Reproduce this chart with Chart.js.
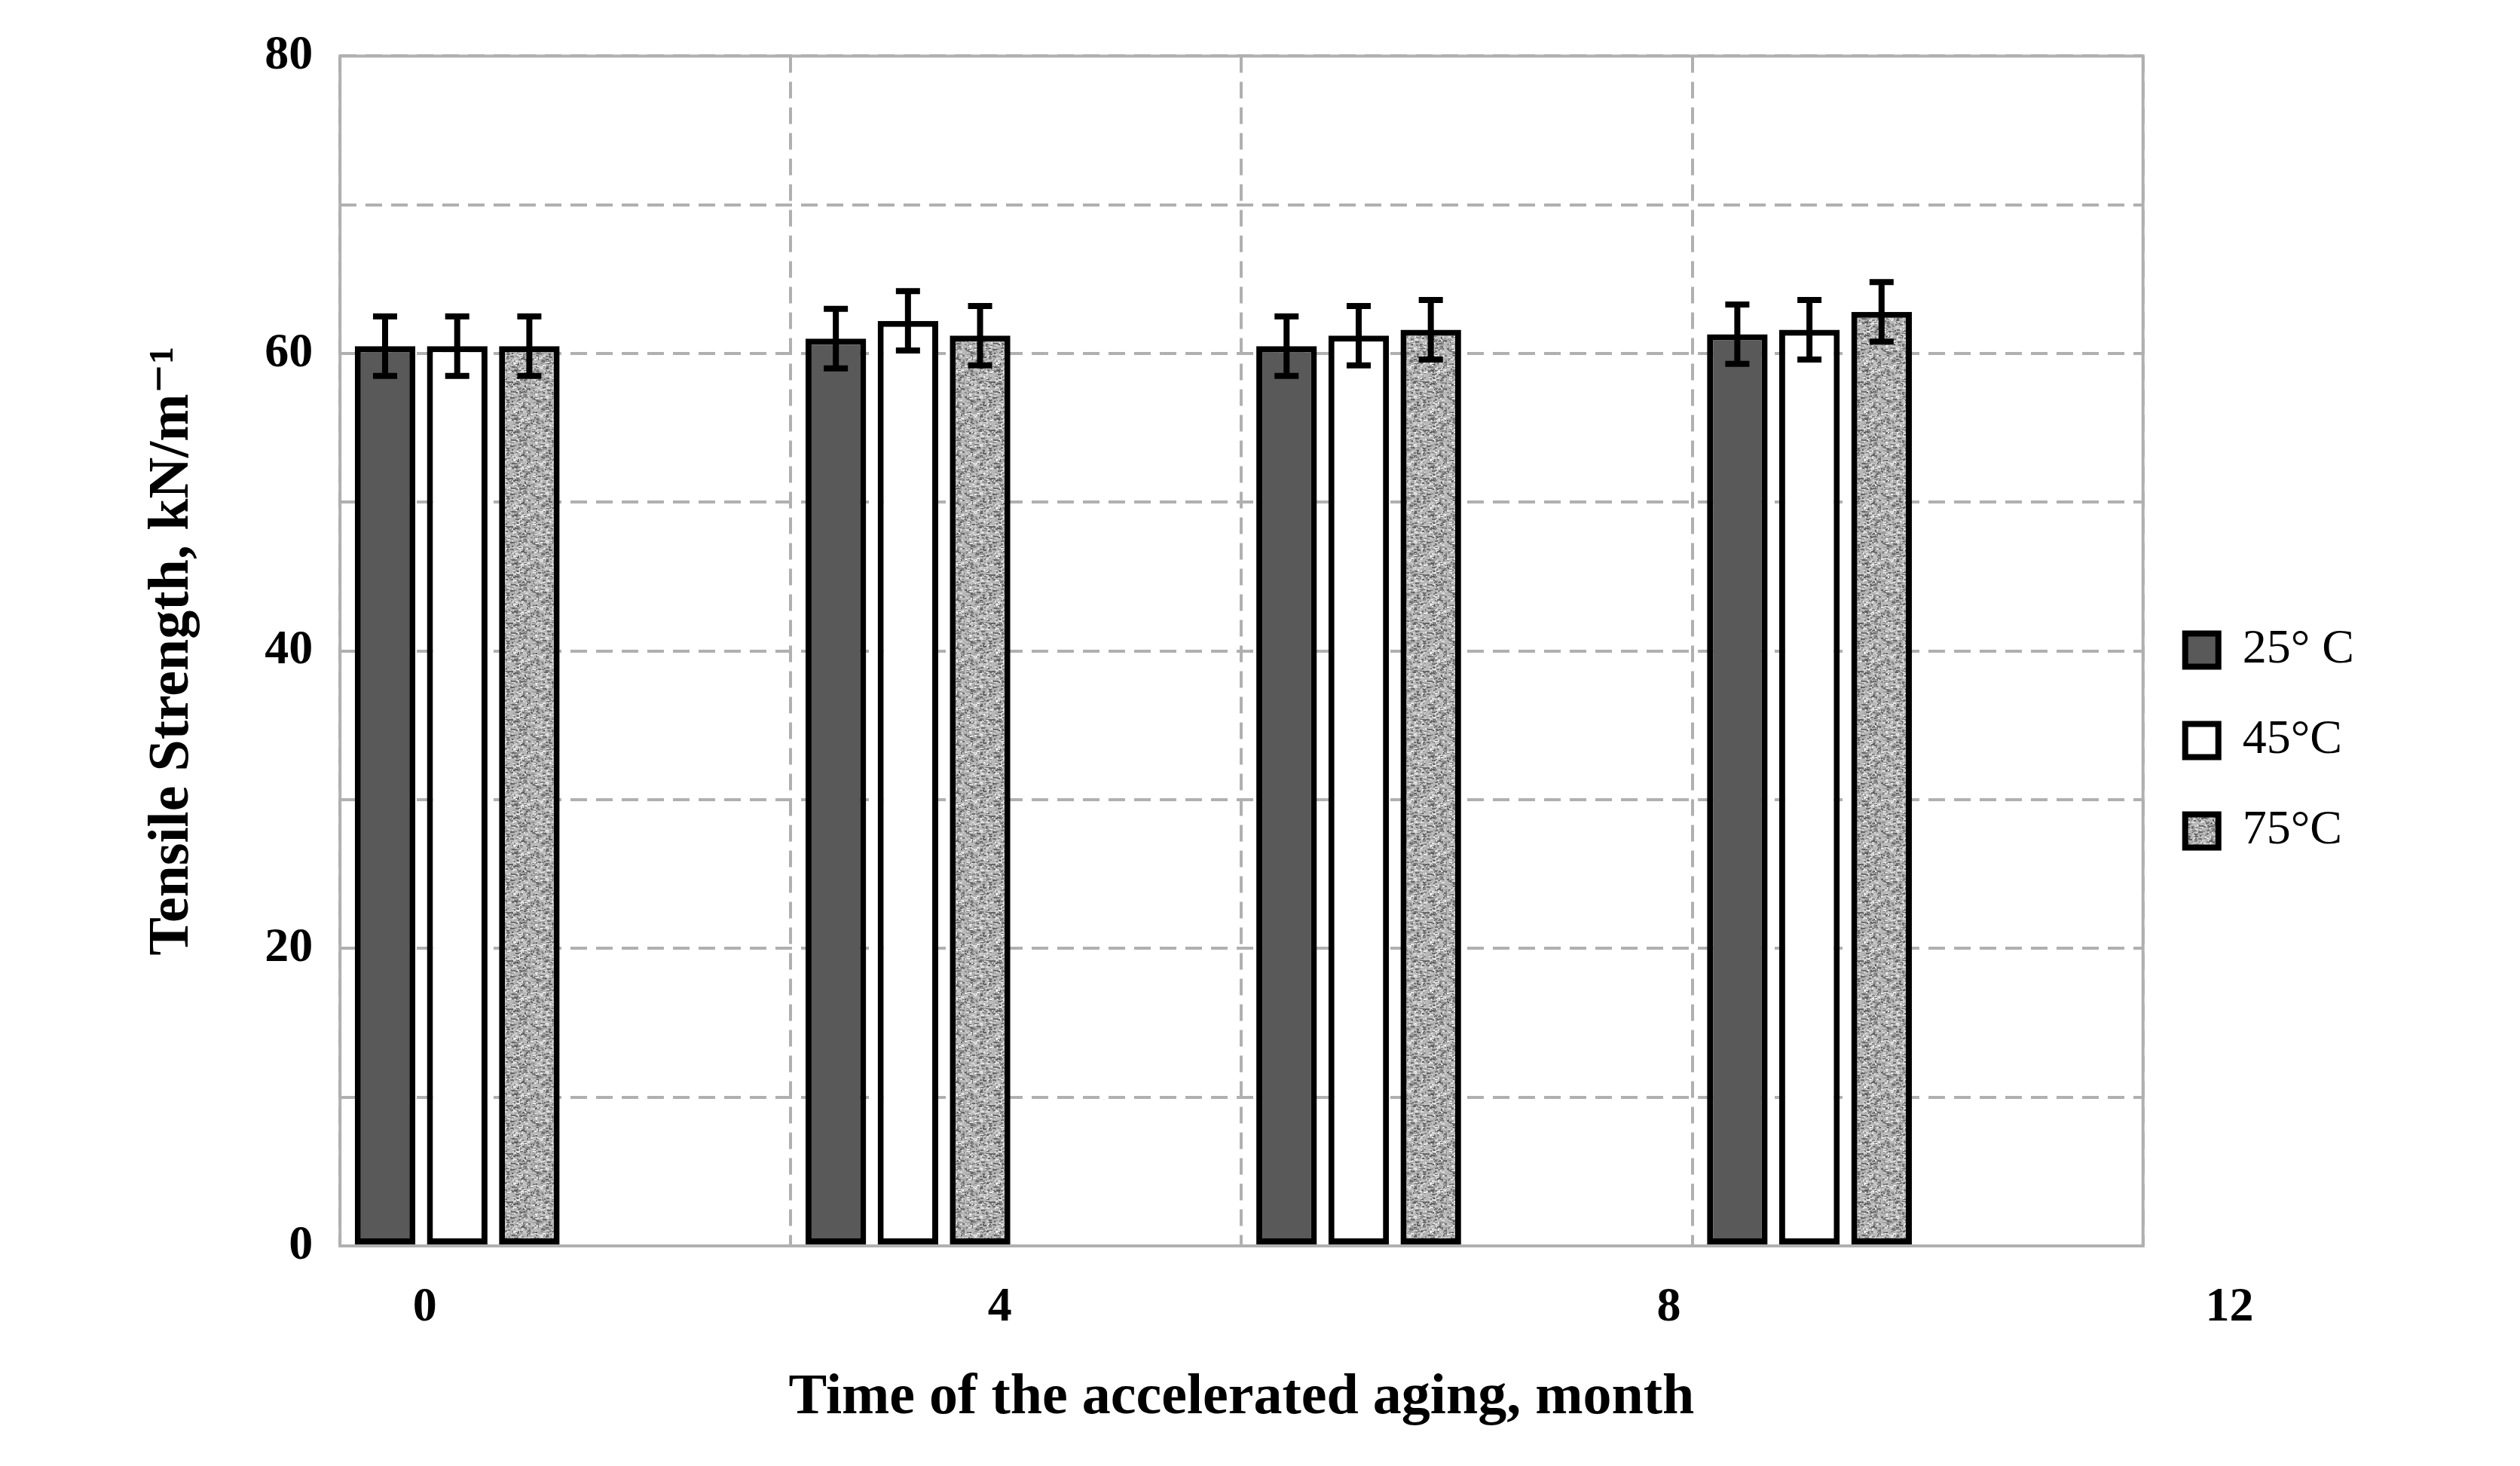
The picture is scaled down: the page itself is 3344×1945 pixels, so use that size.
<!DOCTYPE html>
<html>
<head>
<meta charset="utf-8">
<script src="https://cdn.jsdelivr.net/npm/chart.js@4"></script>
<style>
  html, body { margin: 0; padding: 0; background: #fff; }
  #wrap { width: 3344px; height: 1945px; }
</style>
</head>
<body>
<div id="wrap"><canvas id="chart"></canvas></div>
<script>
// data
const groups = ["0", "4", "8", "12"];
const xTickLabels = ["0", "4", "8", "12"];
const temp25 = [60.5, 61.0, 60.5, 61.3];
const temp45 = [60.5, 62.2, 61.2, 61.6];
const temp75 = [60.5, 61.2, 61.6, 62.8];
const err25 = [2.0, 2.0, 2.0, 2.0];
const err45 = [2.0, 2.0, 2.0, 2.0];
const err75 = [2.0, 2.0, 2.0, 2.0];

const FONT = "'Liberation Serif', 'DejaVu Serif', serif";

// speckled grey fill for the 75°C bars (deterministic noise)
function makeSpeckle() {
  const c = document.createElement("canvas");
  c.width = 64; c.height = 64;
  const g = c.getContext("2d");
  g.fillStyle = "#b8b8b8";
  g.fillRect(0, 0, 64, 64);
  let s = 12345;
  const rnd = () => (s = (s * 1103515245 + 12345) % 2147483648) / 2147483648;
  for (let i = 0; i < 900; i++) {
    const v = Math.floor(90 + rnd() * 150);
    g.fillStyle = `rgb(${v},${v},${v})`;
    g.fillRect(Math.floor(rnd() * 64), Math.floor(rnd() * 64), 2 + Math.floor(rnd() * 3), 2);
  }
  return g.createPattern(c, "repeat");
}
const speckle = makeSpeckle();

const errors = [err25, err45, err75];

const errorBars = {
  id: "errorBars",
  afterDatasetsDraw(chart) {
    const { ctx, scales: { y } } = chart;
    ctx.save();
    ctx.strokeStyle = "#000";
    ctx.lineWidth = 8;
    errors.forEach((errs, di) => {
      const meta = chart.getDatasetMeta(di);
      meta.data.forEach((bar, i) => {
        const v = chart.data.datasets[di].data[i];
        const top = y.getPixelForValue(v + errs[i]);
        const bot = y.getPixelForValue(v - errs[i]);
        ctx.beginPath();
        ctx.moveTo(bar.x, top); ctx.lineTo(bar.x, bot);
        ctx.moveTo(bar.x - 16, top); ctx.lineTo(bar.x + 16, top);
        ctx.moveTo(bar.x - 16, bot); ctx.lineTo(bar.x + 16, bot);
        ctx.stroke();
      });
    });
    ctx.restore();
  }
};

// frame + shifted month labels like the original
const frameAndTicks = {
  id: "frameAndTicks",
  beforeDatasetsDraw(chart) {
    const { ctx, chartArea: a } = chart;
    ctx.save();
    ctx.strokeStyle = "#b0b0b0";
    ctx.lineWidth = 4;
    ctx.strokeRect(a.left, a.top, a.right - a.left, a.bottom - a.top);
    ctx.restore();
  },
  afterDraw(chart) {
    const { ctx, chartArea: a } = chart;
    const fr = [0.047, 0.366, 0.737, 1.048];
    ctx.save();
    ctx.fillStyle = "#000";
    ctx.font = `bold 64px ${FONT}`;
    ctx.textAlign = "center";
    ctx.textBaseline = "top";
    xTickLabels.forEach((t, i) => {
      ctx.fillText(t, a.left + fr[i] * (a.right - a.left), a.bottom + 50);
    });
    ctx.restore();
  }
};

const barStyle = { borderColor: "#000", borderWidth: 8, borderSkipped: false };

new Chart(document.getElementById("chart"), {
  type: "bar",
  data: {
    labels: groups,
    datasets: [
      { label: "25° C", data: temp25, backgroundColor: "#595959", ...barStyle },
      { label: "45°C", data: temp45, backgroundColor: "#ffffff", ...barStyle },
      { label: "75°C", data: temp75, backgroundColor: speckle, ...barStyle },
      { label: "", data: [null, null, null, null] },
      { label: "", data: [null, null, null, null] },
      { label: "", data: [null, null, null, null] }
    ]
  },
  options: {
    responsive: true,
    maintainAspectRatio: false,
    animation: false,
    layout: { padding: { left: 180, top: 60, right: 30, bottom: 40 } },
    datasets: { bar: { barPercentage: 0.84, categoryPercentage: 0.96 } },
    plugins: {
      tooltip: { enabled: false },
      legend: {
        position: "right",
        labels: {
          filter: item => item.text !== "",
          color: "#000",
          font: { family: FONT, size: 64 },
          boxWidth: 44,
          boxHeight: 44,
          padding: 56
        }
      }
    },
    scales: {
      x: {
        afterFit: s => { s.paddingRight = 0; },
        grid: { color: "#b0b0b0", lineWidth: 4, drawTicks: false, offset: true },
        border: { display: false, dash: [22, 12] },
        ticks: { color: "rgba(0,0,0,0)", font: { family: FONT, size: 64 }, padding: 40 },
        title: {
          display: true,
          text: "Time of the accelerated aging, month",
          color: "#000",
          font: { family: FONT, size: 76, weight: "bold" },
          padding: { top: 0 }
        }
      },
      y: {
        min: 0, max: 80,
        grid: { color: "#b0b0b0", lineWidth: 4, drawTicks: false },
        border: { display: false, dash: [22, 12] },
        ticks: {
          stepSize: 10,
          padding: 36,
          color: "#000",
          font: { family: FONT, size: 64, weight: "bold" },
          callback: v => (v % 20 === 0 ? v : "")
        },
        title: {
          display: true,
          text: "Tensile Strength, kN/m⁻¹",
          color: "#000",
          font: { family: FONT, size: 76, weight: "bold" },
          padding: { bottom: 40 }
        }
      }
    }
  },
  plugins: [frameAndTicks, errorBars, {
    id: "legendGap",
    beforeInit(chart) {
      const fit = chart.legend.fit;
      chart.legend.fit = function () { fit.bind(chart.legend)(); this.width += 180; };
    }
  }]
});
</script>
</body>
</html>
